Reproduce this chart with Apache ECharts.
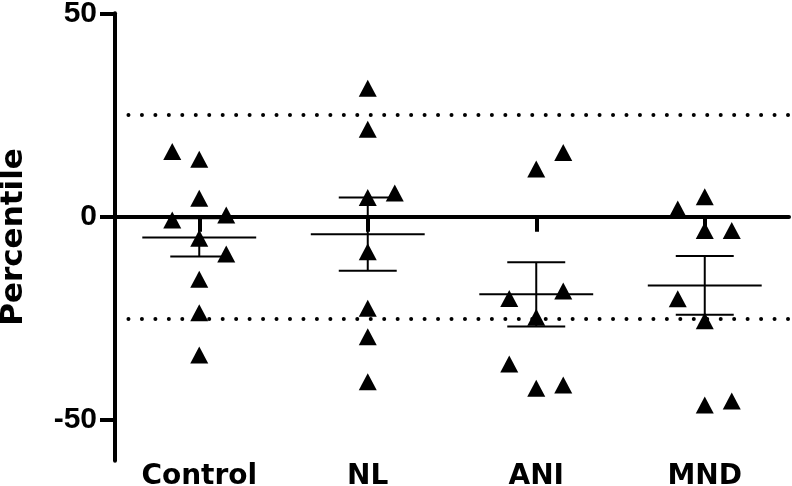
<!DOCTYPE html>
<html>
<head>
<meta charset="utf-8">
<script src="https://cdn.jsdelivr.net/npm/echarts@6/dist/echarts.min.js"></script>
<style>
html,body{margin:0;padding:0;background:#fff;}
#chart{width:792px;height:486px;}
</style>
</head>
<body>
<div id="chart"></div>
<script>
// ---- data ----
var categories = ['Control', 'NL', 'ANI', 'MND'];
var yTicks = [-50, 0, 50];
var refLines = [25, -25];

var controlValues = [16.0, 14.1, 4.5, -0.8, 0.4, -5.3, -9.2, -15.4, -23.6, -34.0];
var controlSlots  = [-1, 0, 0, -1, 1, 0, 1, 0, 0, 0];
var nlValues = [31.6, 21.5, 5.8, 4.7, -8.6, -22.5, -29.5, -40.6];
var nlSlots  = [0, 0, 1, 0, 0, 0, 0, 0];
var aniValues = [15.8, 11.7, -18.3, -20.1, -24.7, -36.2, -41.4, -42.2];
var aniSlots  = [1, 0, 1, -1, 0, -1, 1, 0];
var mndValues = [4.9, 1.9, -3.4, -3.4, -20.2, -25.6, -45.3, -46.3];
var mndSlots  = [0, -1, 0, 1, -1, 0, 1, 0];

var groupMeans = [-5.1, -4.3, -19.1, -16.9];
var groupSEM   = [4.7, 9.0, 7.9, 7.2];

// ---- build ----
var groups = [
  [controlValues, controlSlots],
  [nlValues, nlSlots],
  [aniValues, aniSlots],
  [mndValues, mndSlots]
];
var SLOT_PX = 27;
var pointData = [];
groups.forEach(function (g, ci) {
  g[0].forEach(function (v, i) {
    pointData.push({ value: [ci, v], symbolOffset: [g[1][i] * SLOT_PX, 0] });
  });
});
var barData = groupMeans.map(function (m, i) { return [i, m, groupSEM[i]]; });

var chart = echarts.init(document.getElementById('chart'), null, { renderer: 'canvas' });
var tickFont = { fontFamily: 'Liberation Sans', fontWeight: 'bold', fontSize: 30, color: '#000' };

chart.setOption({
  animation: false,
  backgroundColor: '#fff',
  grid: { left: 115, right: 3, top: 13.3, bottom: 25.3, containLabel: false, outerBoundsMode: 'none' },
  xAxis: [
    {
      type: 'category', data: categories, position: 'bottom',
      axisLine: { show: true, onZero: true, lineStyle: { color: '#000', width: 4 } },
      axisTick: { show: true, alignWithLabel: true, length: 15, lineStyle: { color: '#000', width: 4 } },
      axisLabel: { show: false },
      splitLine: { show: false }
    },
    {
      type: 'category', data: categories, position: 'bottom',
      axisLine: { show: false, onZero: false },
      axisTick: { show: false },
      axisLabel: { show: true, margin: 2, fontFamily: 'DejaVu Sans', fontWeight: 'bold', fontSize: 28, color: '#000' },
      splitLine: { show: false }
    }
  ],
  yAxis: {
    type: 'value', min: -60, max: 50,
    name: 'Percentile', nameLocation: 'middle', nameRotate: 90, nameGap: 86,
    nameTextStyle: { fontFamily: 'DejaVu Sans', fontWeight: 'bold', fontSize: 31, color: '#000' },
    axisLine: { show: true, lineStyle: { color: '#000', width: 4 } },
    axisTick: { show: true, length: 15, customValues: yTicks, lineStyle: { color: '#000', width: 4 } },
    axisLabel: Object.assign({ show: true, margin: 18, customValues: yTicks }, tickFont),
    splitLine: { show: false }
  },
  series: [
    {
      type: 'custom',
      xAxisIndex: 0,
      data: barData,
      encode: { x: 0, y: 1 },
      z: 3,
      silent: true,
      renderItem: function (params, api) {
        var c = api.value(0), m = api.value(1), s = api.value(2);
        var pm = api.coord([c, m]);
        var pu = api.coord([c, m + s]);
        var pl = api.coord([c, m - s]);
        var bw = api.size([1, 0])[0];
        var mh = bw * 0.338, ch = bw * 0.172;
        var st = { stroke: '#000', lineWidth: 2 };
        return {
          type: 'group',
          children: [
            { type: 'line', shape: { x1: pm[0] - mh, y1: pm[1], x2: pm[0] + mh, y2: pm[1] }, style: st },
            { type: 'line', shape: { x1: pu[0], y1: pu[1], x2: pl[0], y2: pl[1] }, style: st },
            { type: 'line', shape: { x1: pu[0] - ch, y1: pu[1], x2: pu[0] + ch, y2: pu[1] }, style: st },
            { type: 'line', shape: { x1: pl[0] - ch, y1: pl[1], x2: pl[0] + ch, y2: pl[1] }, style: st }
          ]
        };
      }
    },
    {
      type: 'scatter',
      xAxisIndex: 0,
      data: pointData,
      symbol: 'triangle',
      symbolSize: [18, 17],
      itemStyle: { color: '#000', opacity: 1 },
      z: 4,
      silent: true,
      markLine: {
        silent: true,
        symbol: 'none',
        label: { show: false },
        emphasis: { disabled: true },
        lineStyle: { color: '#000', width: 4, type: [0.01, 13.45], cap: 'round' },
        data: refLines.map(function (v) { return { yAxis: v }; })
      }
    }
  ]
});
</script>
</body>
</html>
